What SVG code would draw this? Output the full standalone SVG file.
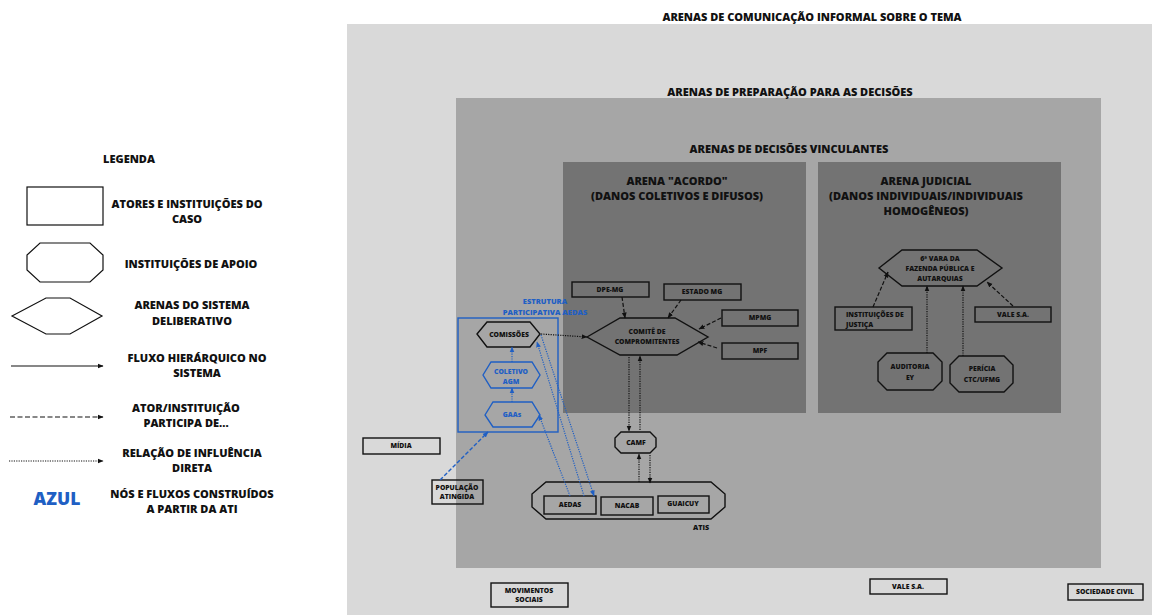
<svg xmlns="http://www.w3.org/2000/svg" width="1152" height="615" viewBox="0 0 1152 615">
<style>
text{font-family:"Open Sans","Liberation Sans",sans-serif;font-weight:800;fill:#111;text-anchor:middle}
.lg{font-size:11px}
.ti{font-size:11px}
.nd{font-size:6.8px}
.bl{fill:#1f5fc4}
.box{fill:none;stroke:#111;stroke-width:1.4}
.bbox{fill:none;stroke:#1f5fc4;stroke-width:1.4}
.solid{stroke:#111;stroke-width:1.2;fill:none}
.dash{stroke:#111;stroke-width:1.2;fill:none;stroke-dasharray:4 2}
.dot{stroke:#111;stroke-width:1.2;fill:none;stroke-dasharray:1.2 1.2}
.bdot{stroke:#1f5fc4;stroke-width:1.2;fill:none;stroke-dasharray:1.2 1.2}
.bdash{stroke:#1f5fc4;stroke-width:1.4;fill:none;stroke-dasharray:4 2}
</style>
<defs>
<marker id="ah" viewBox="0 0 10 10" refX="9" refY="5" markerWidth="6" markerHeight="6" markerUnits="userSpaceOnUse" orient="auto"><path d="M0,1 L10,5 L0,9 z" fill="#111"/></marker>
<marker id="bh" viewBox="0 0 10 10" refX="9" refY="5" markerWidth="6" markerHeight="6" markerUnits="userSpaceOnUse" orient="auto"><path d="M0,1 L10,5 L0,9 z" fill="#1f5fc4"/></marker>
</defs>
<rect width="1152" height="615" fill="#fff"/>

<g id="arenas">
<rect x="347" y="24" width="805" height="591" fill="#d9d9d9"/>
<rect x="456" y="98" width="645" height="470" fill="#a6a6a6"/>
<rect x="563" y="162" width="243" height="251" fill="#737373"/>
<rect x="818" y="162" width="243" height="251" fill="#737373"/>
<text class="ti" x="812" y="21">ARENAS DE COMUNICAÇÃO INFORMAL SOBRE O TEMA</text>
<text class="ti" x="790" y="96">ARENAS DE PREPARAÇÃO PARA AS DECISÕES</text>
<text class="ti" x="789" y="153">ARENAS DE DECISÕES VINCULANTES</text>
<text class="ti" x="677" y="185">ARENA "ACORDO"</text>
<text class="ti" x="677" y="200">(DANOS COLETIVOS E DIFUSOS)</text>
<text class="ti" x="926" y="185">ARENA JUDICIAL</text>
<text class="ti" x="926" y="200">(DANOS INDIVIDUAIS/INDIVIDUAIS</text>
<text class="ti" x="926" y="215">HOMOGÊNEOS)</text>
</g>

<g id="legend">
<text class="lg" x="129" y="163">LEGENDA</text>
<rect x="27" y="187" width="76" height="38" fill="#fff" stroke="#111" stroke-width="1.2"/>
<text class="lg" x="187" y="208">ATORES E INSTITUIÇÕES DO</text>
<text class="lg" x="187" y="223">CASO</text>
<polygon points="40,243 90,243 103,255 103,270 90,282 40,282 27,270 27,255" fill="#fff" stroke="#111" stroke-width="1.2"/>
<text class="lg" x="191" y="268">INSTITUIÇÕES DE APOIO</text>
<polygon points="12,316 46,298 70,298 102,316 70,334 46,334" fill="#fff" stroke="#111" stroke-width="1.2"/>
<text class="lg" x="192" y="309">ARENAS DO SISTEMA</text>
<text class="lg" x="192" y="325">DELIBERATIVO</text>
<line class="solid" x1="11" y1="366" x2="103" y2="366" marker-end="url(#ah)"/>
<text class="lg" x="197" y="362">FLUXO HIERÁRQUICO NO</text>
<text class="lg" x="197" y="377">SISTEMA</text>
<line class="dash" x1="10" y1="417" x2="103" y2="417" marker-end="url(#ah)" style="stroke-dasharray:5 2.5"/>
<text class="lg" x="186" y="412">ATOR/INSTITUIÇÃO</text>
<text class="lg" x="186" y="427">PARTICIPA DE...</text>
<line class="dot" x1="9" y1="461" x2="103" y2="461" marker-end="url(#ah)"/>
<text class="lg" x="192" y="457">RELAÇÃO DE INFLUÊNCIA</text>
<text class="lg" x="192" y="472">DIRETA</text>
<text class="bl" x="57" y="505" style="font-size:17.5px">AZUL</text>
<text class="lg" x="192" y="498">NÓS E FLUXOS CONSTRUÍDOS</text>
<text class="lg" x="192" y="513">A PARTIR DA ATI</text>
</g>

<g id="estrutura-aedas">
<rect class="bbox" x="458" y="318" width="100" height="114"/>
<text class="bl" x="545" y="304" style="font-size:7.5px">ESTRUTURA</text>
<text class="bl" x="545" y="315" style="font-size:7.5px">PARTICIPATIVA AEDAS</text>
</g>
<g id="comissoes">
<polygon class="box" points="477,334 487,322 530,322 540,334 530,347 487,347"/>
<text class="nd" x="509" y="337">COMISSÕES</text>
</g>
<g id="coletivo-agm">
<polygon class="bbox" points="483,375 491,362 532,362 540,375 532,388 491,388"/>
<text class="nd bl" x="511" y="374">COLETIVO</text>
<text class="nd bl" x="511" y="384">AGM</text>
</g>
<g id="gaas">
<polygon class="bbox" points="485,415 493,402 532,402 540,415 532,427 493,427"/>
<text class="nd bl" x="512" y="417">GAAs</text>
</g>

<g id="comite">
<polygon class="box" points="587,337 620,318 675,318 708,337 677,355 620,355"/>
<text class="nd" x="647" y="334">COMITÊ DE</text>
<text class="nd" x="647" y="344">COMPROMITENTES</text>
</g>
<g id="dpe-mg"><rect class="box" x="572" y="282" width="77" height="15"/><text class="nd" x="610" y="292">DPE-MG</text></g>
<g id="estado-mg"><rect class="box" x="664" y="284" width="77" height="16"/><text class="nd" x="702" y="294">ESTADO MG</text></g>
<g id="mpmg"><rect class="box" x="722" y="310" width="76" height="16"/><text class="nd" x="760" y="320">MPMG</text></g>
<g id="mpf"><rect class="box" x="722" y="343" width="76" height="16"/><text class="nd" x="760" y="353">MPF</text></g>
<g id="camf">
<polygon class="box" points="621,432 650,432 656,438 656,447 650,453 621,453 615,447 615,438"/>
<text class="nd" x="636" y="445">CAMF</text>
</g>
<g id="atis">
<polygon class="box" points="546,482 711,482 725,494 725,507 711,519 546,519 532,507 532,494"/>
<text class="nd" x="701" y="530" style="font-size:7.2px">ATIS</text>
</g>
<g id="aedas"><rect class="box" x="544" y="496" width="52" height="18"/><text class="nd" x="570" y="507">AEDAS</text></g>
<g id="nacab"><rect class="box" x="601" y="497" width="52" height="18"/><text class="nd" x="627" y="508">NACAB</text></g>
<g id="guaicuy"><rect class="box" x="658" y="496" width="51" height="17"/><text class="nd" x="683" y="506">GUAICUY</text></g>

<g id="midia"><rect class="box" x="363" y="438" width="77" height="16"/><text class="nd" x="401" y="448">MÍDIA</text></g>
<g id="populacao"><rect class="box" x="432" y="480" width="51" height="24"/><text class="nd" x="457" y="490">POPULAÇÃO</text><text class="nd" x="457" y="499">ATINGIDA</text></g>

<g id="vara">
<polygon class="box" points="879,268 902,250 977,250 1002,268 977,286 902,286"/>
<text class="nd" x="940" y="261">6ª VARA DA</text>
<text class="nd" x="940" y="271">FAZENDA PÚBLICA E</text>
<text class="nd" x="940" y="281">AUTARQUIAS</text>
</g>
<g id="instituicoes-justica"><rect class="box" x="835" y="307" width="77" height="23"/><text class="nd" x="846" y="317" style="text-anchor:start">INSTITUIÇÕES DE</text><text class="nd" x="846" y="327" style="text-anchor:start">JUSTIÇA</text></g>
<g id="vale-judicial"><rect class="box" x="975" y="307" width="76" height="15"/><text class="nd" x="1013" y="317">VALE S.A.</text></g>
<g id="auditoria">
<polygon class="box" points="887,353 933,353 942,362 942,381 933,390 887,390 878,381 878,362"/>
<text class="nd" x="910" y="369">AUDITORIA</text><text class="nd" x="910" y="380">EY</text>
</g>
<g id="pericia">
<polygon class="box" points="959,356 1004,356 1013,365 1013,383 1004,392 959,392 950,383 950,365"/>
<text class="nd" x="982" y="371">PERÍCIA</text><text class="nd" x="982" y="382">CTC/UFMG</text>
</g>

<g id="movimentos"><rect class="box" x="491" y="583" width="77" height="24"/><text class="nd" x="529" y="593">MOVIMENTOS</text><text class="nd" x="529" y="602">SOCIAIS</text></g>
<g id="vale"><rect class="box" x="870" y="579" width="77" height="15"/><text class="nd" x="908" y="589">VALE S.A.</text></g>
<g id="sociedade"><rect class="box" x="1068" y="584" width="75" height="16"/><text class="nd" x="1105" y="594">SOCIEDADE CIVIL</text></g>

<g id="connectors">
<line class="dot" x1="541" y1="334" x2="587" y2="337" marker-end="url(#ah)"/>
<line class="dash" x1="622" y1="297" x2="625" y2="318" marker-end="url(#ah)"/>
<line class="dash" x1="681" y1="300" x2="668" y2="318" marker-end="url(#ah)"/>
<line class="dash" x1="721" y1="318" x2="699" y2="329" marker-end="url(#ah)"/>
<line class="dash" x1="717" y1="348" x2="698" y2="342" marker-end="url(#ah)"/>
<line class="dot" x1="629" y1="357" x2="629" y2="431" marker-end="url(#ah)"/>
<line class="dot" x1="640" y1="430" x2="640" y2="356" marker-end="url(#ah)"/>
<line class="dot" x1="639" y1="482" x2="639" y2="454" marker-end="url(#ah)"/>
<line class="dot" x1="650" y1="455" x2="650" y2="483" marker-end="url(#ah)"/>
<line class="bdot" x1="512" y1="402" x2="512" y2="388" marker-end="url(#bh)"/>
<line class="bdot" x1="512" y1="362" x2="512" y2="347" marker-end="url(#bh)"/>
<line class="bdash" x1="440" y1="480" x2="488" y2="432" marker-end="url(#bh)"/>
<line class="bdot" x1="570" y1="496" x2="539" y2="415" marker-end="url(#bh)"/>
<line class="bdot" x1="584" y1="496" x2="537" y2="342" marker-end="url(#bh)"/>
<line class="bdot" x1="541" y1="335" x2="594" y2="496" marker-end="url(#bh)"/>
<line class="dash" x1="873" y1="307" x2="888" y2="272" marker-end="url(#ah)"/>
<line class="dot" x1="927" y1="353" x2="927" y2="286" marker-end="url(#ah)"/>
<line class="dot" x1="963" y1="356" x2="963" y2="286" marker-end="url(#ah)"/>
<line class="dash" x1="1013" y1="306" x2="987" y2="282" marker-end="url(#ah)"/>
</g>
</svg>
